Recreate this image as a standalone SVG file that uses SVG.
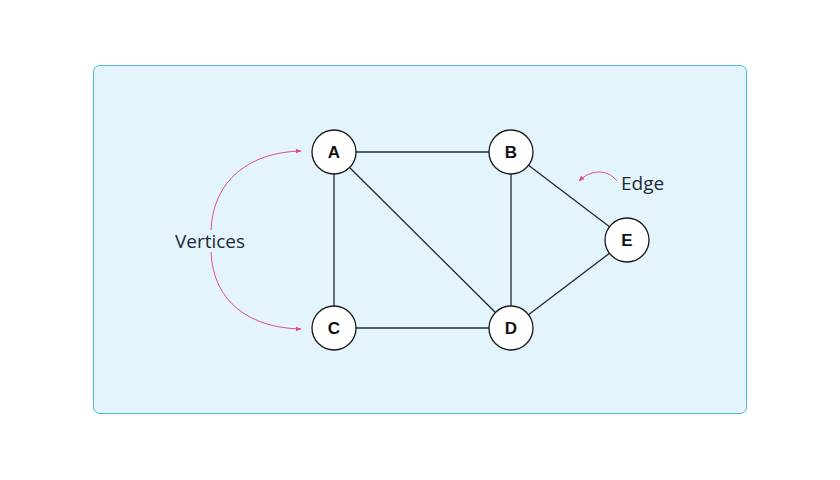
<svg xmlns="http://www.w3.org/2000/svg" width="840" height="480" viewBox="0 0 840 480">
<style>
.n circle{fill:#fff;stroke:#1a1a1a;stroke-width:1.3}
.n text{font-family:"Liberation Sans",Arial,sans-serif;font-weight:bold;font-size:17px;text-anchor:middle;fill:#111}
.e line{stroke:#1f2a30;stroke-width:1.3}
.a{fill:none;stroke:#e0508a;stroke-width:1}
.lbl{font-family:"Open Sans","Noto Sans",sans-serif;font-size:19px;fill:#1f2a33}
</style>
<defs><marker id="ah" viewBox="0 0 10 10" refX="9" refY="5" markerWidth="6" markerHeight="6" orient="auto"><path d="M0,1 L10,5 L0,9 z" fill="#e0508a"/></marker></defs>
<rect x="93.500" y="65.500" width="653" height="348" rx="6" fill="#e3f4fd" stroke="#4fb8e0" stroke-width="1"/>
<g id="connectors" class="e">
<line x1="334" y1="152" x2="511" y2="152"/>
<line x1="334" y1="152" x2="334" y2="328"/>
<line x1="334" y1="152" x2="511" y2="328"/>
<line x1="511" y1="152" x2="511" y2="328"/>
<line x1="511" y1="152" x2="627" y2="240"/>
<line x1="334" y1="328" x2="511" y2="328"/>
<line x1="511" y1="328" x2="627" y2="240"/>
</g>
<g id="annotations">
<path class="a" d="M211,230 C213,180 250,152 301,151" marker-end="url(#ah)"/>
<path class="a" d="M211,252 C213,302 250,328 301,329" marker-end="url(#ah)"/>
<text class="lbl" x="210" y="248" text-anchor="middle">Vertices</text>
<path class="a" d="M617,181 C607,168 590,170 579,181" marker-end="url(#ah)"/>
<text class="lbl" x="621" y="190">Edge</text>
</g>
<g id="A" class="n"><circle cx="334" cy="152" r="22"/><text x="334" y="158">A</text></g>
<g id="B" class="n"><circle cx="511" cy="152" r="22"/><text x="511" y="158">B</text></g>
<g id="C" class="n"><circle cx="334" cy="328" r="22"/><text x="334" y="334">C</text></g>
<g id="D" class="n"><circle cx="511" cy="328" r="22"/><text x="511" y="334">D</text></g>
<g id="E" class="n"><circle cx="627" cy="240" r="22"/><text x="627" y="246">E</text></g>
</svg>
